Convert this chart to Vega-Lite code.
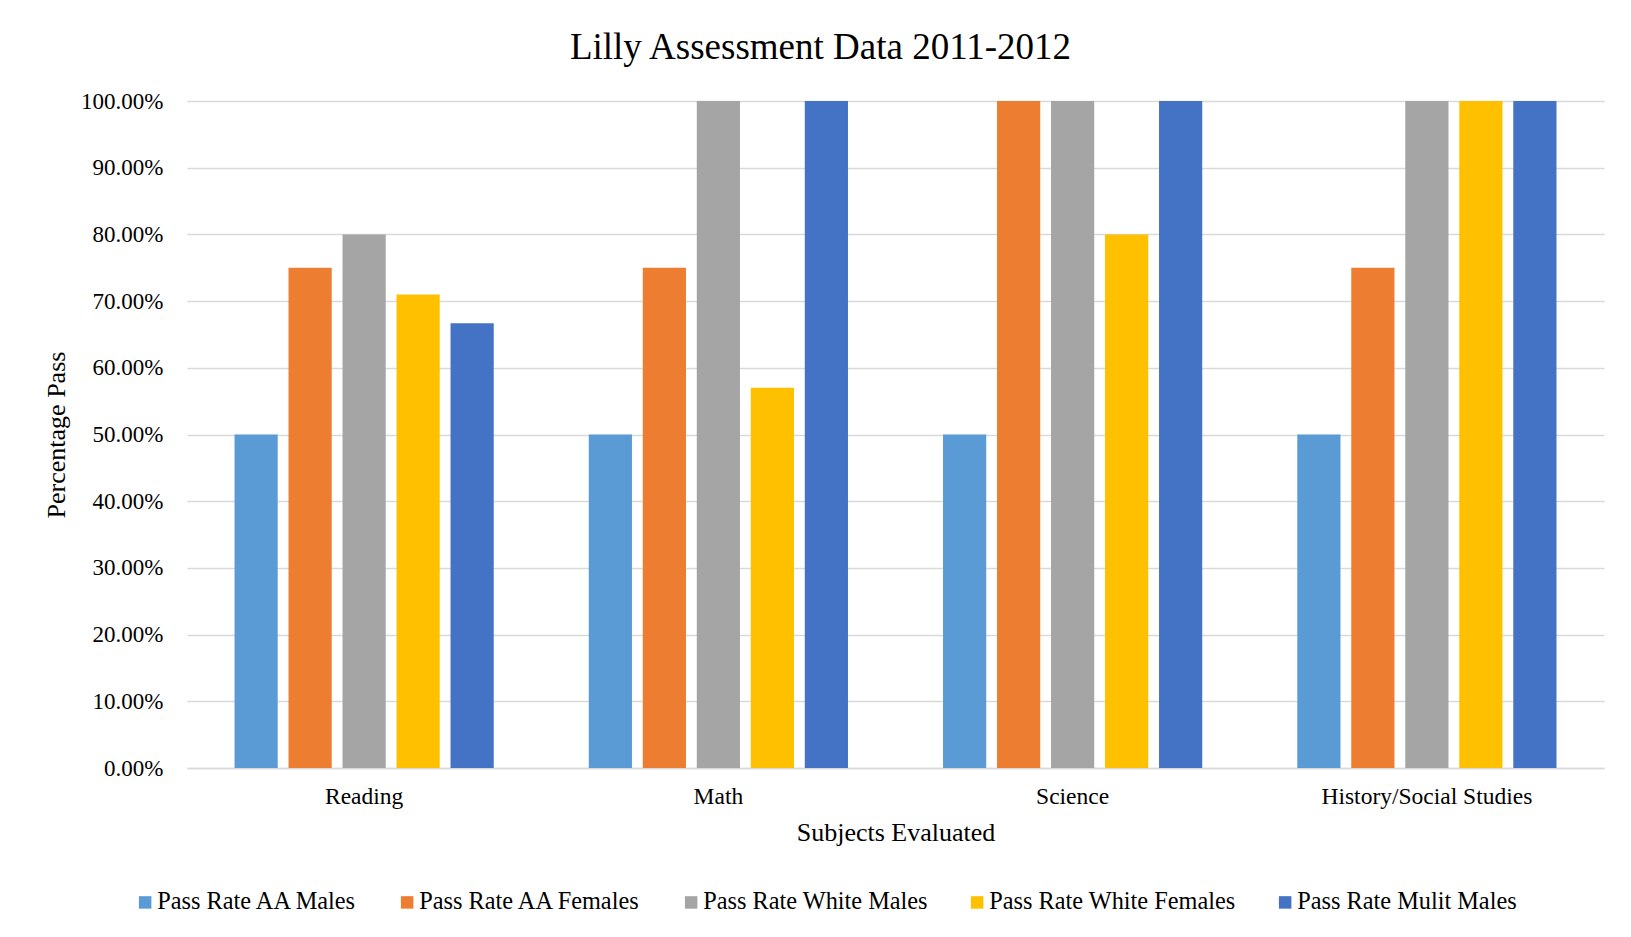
{
  "$schema": "https://vega.github.io/schema/vega-lite/v6.json",
  "autosize": {"type": "none"},
  "width": 1417,
  "height": 667,
  "padding": {"left": 187, "top": 101, "right": 27, "bottom": 169},
  "background": "white",
  "title": {
    "text": "Lilly Assessment Data 2011-2012",
    "font": "Liberation Serif",
    "fontSize": 37,
    "fontWeight": "normal",
    "color": "#000000",
    "anchor": "middle",
    "dx": -75,
    "offset": 23
  },
  "data": {
    "values": [
      {"subject": "Reading", "group": "Pass Rate AA Males", "rate": 0.50},
      {"subject": "Reading", "group": "Pass Rate AA Females", "rate": 0.75},
      {"subject": "Reading", "group": "Pass Rate White Males", "rate": 0.80},
      {"subject": "Reading", "group": "Pass Rate White Females", "rate": 0.71},
      {"subject": "Reading", "group": "Pass Rate Mulit Males", "rate": 0.6667},
      {"subject": "Math", "group": "Pass Rate AA Males", "rate": 0.50},
      {"subject": "Math", "group": "Pass Rate AA Females", "rate": 0.75},
      {"subject": "Math", "group": "Pass Rate White Males", "rate": 1.00},
      {"subject": "Math", "group": "Pass Rate White Females", "rate": 0.57},
      {"subject": "Math", "group": "Pass Rate Mulit Males", "rate": 1.00},
      {"subject": "Science", "group": "Pass Rate AA Males", "rate": 0.50},
      {"subject": "Science", "group": "Pass Rate AA Females", "rate": 1.00},
      {"subject": "Science", "group": "Pass Rate White Males", "rate": 1.00},
      {"subject": "Science", "group": "Pass Rate White Females", "rate": 0.80},
      {"subject": "Science", "group": "Pass Rate Mulit Males", "rate": 1.00},
      {"subject": "History/Social Studies", "group": "Pass Rate AA Males", "rate": 0.50},
      {"subject": "History/Social Studies", "group": "Pass Rate AA Females", "rate": 0.75},
      {"subject": "History/Social Studies", "group": "Pass Rate White Males", "rate": 1.00},
      {"subject": "History/Social Studies", "group": "Pass Rate White Females", "rate": 1.00},
      {"subject": "History/Social Studies", "group": "Pass Rate Mulit Males", "rate": 1.00}
    ]
  },
  "mark": {"type": "bar"},
  "encoding": {
    "x": {
      "field": "subject",
      "type": "nominal",
      "sort": ["Reading", "Math", "Science", "History/Social Studies"],
      "scale": {"paddingInner": 0, "paddingOuter": 0},
      "axis": {
        "title": "Subjects Evaluated",
        "labelAngle": 0,
        "ticks": false,
        "domain": true,
        "domainColor": "#D9D9D9",
        "domainWidth": 1.5,
        "grid": false,
        "labelFont": "Liberation Serif",
        "labelFontSize": 23.5,
        "labelColor": "#000000",
        "labelPadding": 16,
        "labelLimit": 400,
        "titleFont": "Liberation Serif",
        "titleFontSize": 26,
        "titleFontWeight": "normal",
        "titleColor": "#000000",
        "titlePadding": 12
      }
    },
    "xOffset": {
      "field": "group",
      "type": "nominal",
      "sort": ["Pass Rate AA Males", "Pass Rate AA Females", "Pass Rate White Males", "Pass Rate White Females", "Pass Rate Mulit Males"],
      "scale": {"paddingInner": 0.2, "paddingOuter": 0.88}
    },
    "y": {
      "field": "rate",
      "type": "quantitative",
      "scale": {"domain": [0, 1], "nice": false},
      "axis": {
        "title": "Percentage Pass",
        "format": ".2%",
        "values": [0, 0.1, 0.2, 0.3, 0.4, 0.5, 0.6, 0.7, 0.8, 0.9, 1.0],
        "ticks": false,
        "domain": false,
        "grid": true,
        "gridColor": "#D9D9D9",
        "gridWidth": 1.5,
        "labelFont": "Liberation Serif",
        "labelFontSize": 23,
        "labelColor": "#000000",
        "labelPadding": 24,
        "titleFont": "Liberation Serif",
        "titleFontSize": 26,
        "titleFontWeight": "normal",
        "titleColor": "#000000",
        "titlePadding": 11
      }
    },
    "color": {
      "field": "group",
      "type": "nominal",
      "sort": ["Pass Rate AA Males", "Pass Rate AA Females", "Pass Rate White Males", "Pass Rate White Females", "Pass Rate Mulit Males"],
      "scale": {
        "domain": ["Pass Rate AA Males", "Pass Rate AA Females", "Pass Rate White Males", "Pass Rate White Females", "Pass Rate Mulit Males"],
        "range": ["#5B9BD5", "#ED7D31", "#A5A5A5", "#FFC000", "#4472C4"]
      },
      "legend": {
        "title": null,
        "orient": "none",
        "legendX": -54,
        "legendY": 789,
        "direction": "horizontal",
        "columns": 5,
        "columnPadding": 37,
        "symbolType": "square",
        "symbolSize": 156,
        "symbolStrokeWidth": 0,
        "labelOffset": 0,
        "labelFont": "Liberation Serif",
        "labelFontSize": 24.3,
        "labelColor": "#000000",
        "labelLimit": 400,
        "padding": 0
      }
    }
  },
  "config": {
    "view": {"stroke": null}
  }
}
